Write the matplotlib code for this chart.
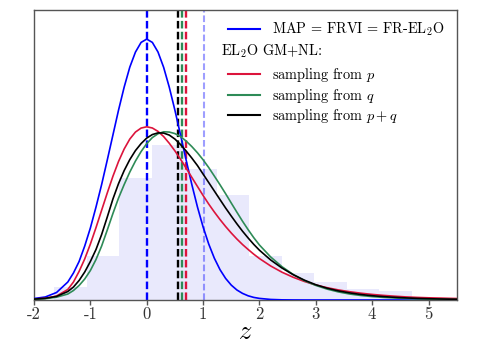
import matplotlib
matplotlib.use("Agg")
import matplotlib.pyplot as plt
from matplotlib.lines import Line2D

plt.rcParams['mathtext.fontset'] = 'cm'
plt.rcParams['font.family'] = ['cmr10', 'DejaVu Serif']
plt.rcParams['axes.unicode_minus'] = False

# ---- data ----
z = [-2.0, -1.8, -1.6, -1.4, -1.3, -1.2, -1.1, -1.0, -0.9, -0.8, -0.7, -0.6, -0.5,
     -0.4, -0.3, -0.2, -0.1, 0.0, 0.1, 0.2, 0.3, 0.4, 0.5, 0.6, 0.7, 0.8, 0.9, 1.0,
     1.1, 1.2, 1.3, 1.4, 1.5, 1.6, 1.7, 1.8, 1.9, 2.0, 2.2, 2.4, 2.6, 2.8, 3.0, 3.2,
     3.4, 3.6, 3.8, 4.0, 4.2, 4.4, 4.6, 4.8, 5.0, 5.2, 5.4, 5.5]

dens_map = [0.0038, 0.0077, 0.0192, 0.0460, 0.0691, 0.0985, 0.1381, 0.1841, 0.2378,
            0.2954, 0.3581, 0.4220, 0.4859, 0.5448, 0.5959, 0.6343, 0.6591, 0.6675,
            0.6591, 0.6345, 0.5954, 0.5445, 0.4857, 0.4222, 0.3578, 0.2956, 0.2381,
            0.1870, 0.1432, 0.1069, 0.0777, 0.0552, 0.0381, 0.0256, 0.0169, 0.0107,
            0.0066, 0.0041, 0.0014, 0.0004, 0.0001, 0.0, 0.0, 0.0, 0.0, 0.0, 0.0, 0.0,
            0.0, 0.0, 0.0, 0.0, 0.0, 0.0, 0.0, 0.0]

dens_p = [0.0026, 0.0043, 0.0102, 0.0269, 0.0460, 0.0731, 0.1051, 0.1430, 0.1852,
          0.2297, 0.2739, 0.3164, 0.3545, 0.3864, 0.4118, 0.4297, 0.4399, 0.4432,
          0.4401, 0.4314, 0.4182, 0.4010, 0.3816, 0.3601, 0.3373, 0.3138, 0.2905,
          0.2675, 0.2455, 0.2251, 0.2059, 0.1880, 0.1714, 0.1560, 0.1419, 0.1292,
          0.1171, 0.1061, 0.0870, 0.0711, 0.0581, 0.0473, 0.0384, 0.0315, 0.0258,
          0.0212, 0.0174, 0.0143, 0.0118, 0.0097, 0.0079, 0.0066, 0.0056, 0.0049,
          0.0041, 0.0038]

dens_q = [0.0018, 0.0033, 0.0072, 0.0153, 0.0243, 0.0371, 0.0537, 0.0754, 0.1036,
          0.1381, 0.1790, 0.2212, 0.2609, 0.2954, 0.3274, 0.3555, 0.3798, 0.4002,
          0.4156, 0.4253, 0.4304, 0.4297, 0.4258, 0.4182, 0.4066, 0.3926, 0.3767,
          0.3588, 0.3389, 0.3171, 0.2949, 0.2719, 0.2481, 0.2246, 0.2015, 0.1798,
          0.1593, 0.1407, 0.1100, 0.0852, 0.0652, 0.0494, 0.0373, 0.0279, 0.0207,
          0.0153, 0.0115, 0.0087, 0.0066, 0.0051, 0.0038, 0.0029, 0.0023, 0.0018,
          0.0014, 0.0013]

dens_pq = [0.0023, 0.0043, 0.0092, 0.0217, 0.0332, 0.0499, 0.0716, 0.0985, 0.1292,
           0.1675, 0.2123, 0.2583, 0.2979, 0.3312, 0.3593, 0.3823, 0.4002, 0.4143,
           0.4233, 0.4276, 0.4271, 0.4220, 0.4118, 0.3977, 0.3811, 0.3632, 0.3440,
           0.3222, 0.3005, 0.2788, 0.2570, 0.2353, 0.2148, 0.1949, 0.1760, 0.1586,
           0.1422, 0.1274, 0.1023, 0.0818, 0.0647, 0.0506, 0.0391, 0.0302, 0.0233,
           0.0182, 0.0141, 0.0110, 0.0087, 0.0069, 0.0054, 0.0041, 0.0033, 0.0026,
           0.0020, 0.0018]

hist_edges = [-1.643, -1.066, -0.490, 0.087, 0.664, 1.240, 1.817, 2.394, 2.970,
              3.547, 4.124, 4.700]
hist_heights = [0.0325, 0.1125, 0.312, 0.396, 0.334, 0.2685, 0.1125, 0.068, 0.045,
                0.027, 0.023]

means = {'map': 0.0, 'pq': 0.55, 'q': 0.63, 'p': 0.70, 'true': 1.01}

xticks = [-2, -1, 0, 1, 2, 3, 4, 5]
xtick_labels = ['-2', '-1', '0', '1', '2', '3', '4', '5']

labels = ['MAP = FRVI = FR-EL$_2$O', 'sampling from $p$', 'sampling from $q$',
          'sampling from $p + q$']
group_title = 'EL$_2$O GM+NL:'

# ---- styles ----
c_blue = '#0000ff'
c_red = '#dc143c'
c_green = '#2e8b57'
c_black = '#000000'

fig = plt.figure(figsize=(4.91, 3.44), dpi=100)
ax = fig.add_axes([34 / 491, 44 / 344, 422.7 / 491, 290 / 344])

# histogram
widths = [hist_edges[i + 1] - hist_edges[i] for i in range(len(hist_heights))]
ax.bar(hist_edges[:-1], hist_heights, width=widths, align='edge',
       color='#e9e9fc', edgecolor='none', zorder=1)

# vertical dashed lines
dash = (3.2, 1.4)
ax.axvline(means['map'], color=c_blue, lw=1.7, dashes=dash, zorder=2)
ax.axvline(means['true'], color=c_blue, alpha=0.38, lw=1.5, dashes=dash, zorder=2)
ax.axvline(means['pq'], color=c_black, lw=1.7, dashes=dash, zorder=2)
ax.axvline(means['q'], color=c_green, lw=1.7, dashes=dash, zorder=2)
ax.axvline(means['p'], color=c_red, lw=1.7, dashes=dash, zorder=2)

# curves
lw = 1.2
ax.plot(z, dens_map, color=c_blue, lw=lw, zorder=3)
ax.plot(z, dens_p, color=c_red, lw=lw, zorder=3)
ax.plot(z, dens_q, color=c_green, lw=lw, zorder=3)
ax.plot(z, dens_pq, color=c_black, lw=lw, zorder=3)

ax.set_xlim(-2, 5.5)
ax.set_ylim(0, 0.742)
ax.set_yticks([])
ax.set_xticks(xticks)
ax.set_xticklabels(xtick_labels, fontsize=12)
ax.tick_params(axis='x', direction='out', length=3.5, width=1, color='#555555',
               pad=1, labelcolor='#333333')
for s in ax.spines.values():
    s.set_color('#555555')
    s.set_linewidth(1.0)
ax.set_xlabel('$z$', fontsize=19, labelpad=-1)

# legends
fs = 10.3
h1 = [Line2D([], [], color=c_blue, lw=1.5)]
leg1 = ax.legend(h1, labels[:1], loc='upper left', bbox_to_anchor=(0.459, 0.962),
                 frameon=False, fontsize=fs, handlelength=2.25, handletextpad=0.8,
                 borderpad=0, borderaxespad=0)
ax.add_artist(leg1)
ax.text(0.4417, 0.856, group_title, transform=ax.transAxes, fontsize=fs,
        ha='left', va='center')
h2 = [Line2D([], [], color=c, lw=1.5) for c in (c_red, c_green, c_black)]
ax.legend(h2, labels[1:], loc='upper left', bbox_to_anchor=(0.459, 0.808),
          frameon=False, fontsize=fs, handlelength=2.25, handletextpad=0.8,
          borderpad=0, borderaxespad=0, labelspacing=0.2)

fig.savefig('out.png', dpi=100)
